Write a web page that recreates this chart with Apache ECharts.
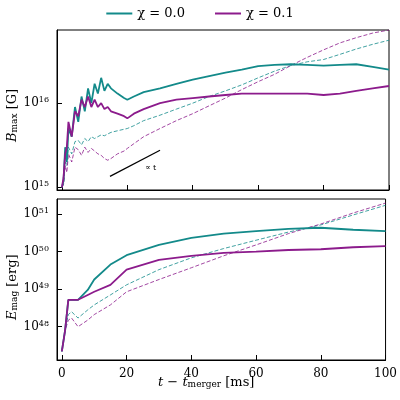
<!DOCTYPE html><html><head><meta charset="utf-8"><script src="https://cdn.jsdelivr.net/npm/echarts@6/dist/echarts.min.js"></script></head><body style="margin:0"><div id="c" style="width:400px;height:400px"></div><script>
const tTop=[0,0.5,1,1.5,2,3,4,5,6,7,8,9,10,11,12,13,14,15,17,19,20,22,25,30,35,40,45,50,55,60,65,70,75,80,85,90,95,100];
const bTealSolid=[1e15,1.2e15,3e15,2e15,5e15,4e15,9e15,6e15,1.2e16,8e15,1.5e16,1e16,1.7e16,1.3e16,2e16,1.4e16,1.7e16,1.5e16,1.3e16,1.15e16,1.1e16,1.2e16,1.35e16,1.5e16,1.7e16,1.9e16,2.1e16,2.3e16,2.5e16,2.75e16,2.85e16,2.9e16,2.85e16,2.8e16,2.85e16,2.9e16,2.7e16,2.5e16];
const bPurpleSolid=[1e15,1.3e15,2.5e15,3e15,6e15,4e15,8e15,7e15,1.1e16,9e15,1.2e16,9e15,1.1e16,9e15,1e16,8.5e15,9e15,8e15,7.5e15,7e15,6.6e15,7.5e15,8.5e15,1e16,1.1e16,1.15e16,1.2e16,1.25e16,1.3e16,1.3e16,1.3e16,1.3e16,1.3e16,1.25e16,1.3e16,1.4e16,1.5e16,1.6e16];
const bTealDash=[1e15,1.1e15,2e15,1.8e15,3e15,2.5e15,3.5e15,3.6e15,3.2e15,3.8e15,3.5e15,4e15,3.8e15,4e15,4.2e15,4.1e15,4.3e15,4.5e15,4.7e15,4.9e15,5e15,5.4e15,6.2e15,7.2e15,8.5e15,1e16,1.2e16,1.4e16,1.65e16,2e16,2.4e16,2.8e16,3.1e16,3.3e16,3.8e16,4.4e16,5e16,5.6e16];
const bPurpleDash=[1e15,1.1e15,1.8e15,1.5e15,2.5e15,2e15,3e15,2.8e15,2.4e15,3e15,2.6e15,2.9e15,2.7e15,2.5e15,2.4e15,2.2e15,2.1e15,2.2e15,2.5e15,2.7e15,2.9e15,3.3e15,4e15,5e15,6.2e15,7.5e15,9.3e15,1.15e16,1.45e16,1.8e16,2.2e16,2.8e16,3.5e16,4.3e16,5.2e16,6e16,6.8e16,7.4e16];
const propT=[14.7,30], propB=[1.35e15,2.76e15];
const tBot=[0,1,2,3,5,8,10,15,20,30,40,50,60,70,80,90,100];
const eTealSolid=[2.2e47,8e47,5.2e48,5.2e48,5.2e48,9.5e48,1.8e49,4.5e49,8e49,1.5e50,2.3e50,3e50,3.5e50,4e50,4.3e50,3.8e50,3.5e50];
const ePurpleSolid=[2.2e47,8e47,5.2e48,5.2e48,5.2e48,7e48,8.5e48,1.3e49,3.3e49,6e49,7.7e49,9.2e49,1e50,1.1e50,1.15e50,1.3e50,1.4e50];
const eTealDash=[2.2e47,8e47,2.1e48,2.5e48,1.7e48,2.8e48,3.8e48,7e48,1.3e49,3.3e49,6.8e49,1.2e50,2e50,3.3e50,5.1e50,9.4e50,1.7e51];
const ePurpleDash=[2.2e47,8e47,1.5e48,1.7e48,1e48,1.5e48,2.1e48,3.8e48,8.5e48,1.8e49,3.7e49,7.7e49,1.5e50,3e50,5.4e50,1.06e51,1.95e51];
const xTicks=[0,20,40,60,80,100];
const TEAL='#138a8a',PUR='#8c1b8c';
const z=(a,b)=>a.map((v,i)=>[v,b[i]]);
const F='DejaVu Serif';
const rich={s:{fontSize:8,verticalAlign:'top',padding:[0,0,6,0],fontFamily:F},n:{fontSize:12,fontFamily:F}};
const fmt=v=>{const e=Math.round(Math.log10(v));return Math.abs(Math.log10(v)-e)<1e-6?'{n|10}{s|'+e+'}':'';};
const xa=(gi,show)=>({type:'value',gridIndex:gi,min:-1.5,max:100,splitLine:{show:false},
 axisLine:{onZero:false,lineStyle:{color:'#000'}},axisTick:{inside:true,customValues:xTicks,lineStyle:{color:'#000'}},
 axisLabel:{show:show,customValues:xTicks,color:'#000',fontFamily:F,fontSize:12}, minorTick:{show:false}});
const ya=(gi,mn,mx)=>({type:'log',gridIndex:gi,min:mn,max:mx,logBase:10,splitLine:{show:false},
 axisLine:{onZero:false,lineStyle:{color:'#000'}},axisTick:{inside:true,lineStyle:{color:'#000'}},
 axisLabel:{formatter:fmt,rich:rich,color:'#000',showMaxLabel:false}});
const L=(name,xi,d,c,dash,w)=>({name:name,type:'line',xAxisIndex:xi,yAxisIndex:xi,data:d,showSymbol:false,symbol:'none',
 lineStyle:{color:c,width:w,type:dash?[4,2]:'solid'},itemStyle:{color:c},z:dash?2:3,silent:true});
const nameRich={i:{fontFamily:F,fontStyle:'italic',fontSize:13},s:{fontFamily:F,fontSize:9,verticalAlign:'bottom'}};
echarts.init(document.getElementById('c')).setOption({
 animation:false,
 legend:{top:2,left:'center',itemWidth:26,itemHeight:2,itemGap:30,textStyle:{fontFamily:F,fontSize:13,color:'#000'},
  data:[{name:'χ = 0.0',icon:'rect'},{name:'χ = 0.1',icon:'rect'}]},
 grid:[{left:57,top:30,right:11,height:160,show:true,borderColor:'#000',borderWidth:1},
       {left:57,top:199,right:11,height:161,show:true,borderColor:'#000',borderWidth:1}],
 xAxis:[xa(0,false),xa(1,true)],
 yAxis:[ya(0,0.93e15,7.4e16),ya(1,1.3e47,2.5e51)],
 graphic:[
  {type:'text',x:6,y:142,rotation:Math.PI/2,style:{text:'{i|B}{s|max} [G]',rich:nameRich,fontFamily:F,fontSize:13}},
  {type:'text',x:6,y:320,rotation:Math.PI/2,style:{text:'{i|E}{s|mag} [erg]',rich:nameRich,fontFamily:F,fontSize:13}},
  {type:'text',left:158,top:376,style:{text:'{i|t} − {i|t}{s|merger} [ms]',rich:nameRich,fontFamily:F,fontSize:13}},
  {type:'text',left:145,top:164,style:{text:'∝ t',fontFamily:F,fontSize:8,fill:'#000'}}
 ],
 series:[
  L('χ = 0.0',0,z(tTop,bTealSolid),TEAL,false,1.8),
  L('χ = 0.1',0,z(tTop,bPurpleSolid),PUR,false,1.8),
  L('χ = 0.0',0,z(tTop,bTealDash),TEAL,true,0.8),
  L('χ = 0.1',0,z(tTop,bPurpleDash),PUR,true,0.8),
  L('prop',0,z(propT,propB),'#000',false,1.2),
  L('χ = 0.0',1,z(tBot,eTealSolid),TEAL,false,1.8),
  L('χ = 0.1',1,z(tBot,ePurpleSolid),PUR,false,1.8),
  L('χ = 0.0',1,z(tBot,eTealDash),TEAL,true,0.8),
  L('χ = 0.1',1,z(tBot,ePurpleDash),PUR,true,0.8)
 ]
});
</script></body></html>
